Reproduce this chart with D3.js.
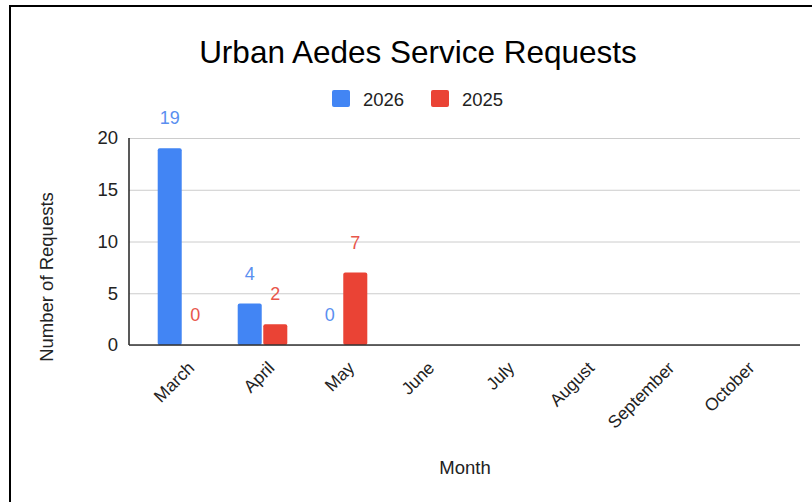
<!DOCTYPE html>
<html><head><meta charset="utf-8">
<script src="https://cdn.jsdelivr.net/npm/d3@7/dist/d3.min.js"></script>
<style>body{margin:0;background:#fff}svg{display:block;font-family:"Liberation Sans",Arial,sans-serif}</style>
</head><body>
<svg id="c" width="812" height="502"></svg>
<script>
const months = ["March","April","May","June","July","August","September","October"];
const series2026 = [19, 4, 0, null, null, null, null, null];
const series2025 = [0, 2, 7, null, null, null, null, null];
const seriesNames = ["2026", "2025"];
const colors = ["#4285f4", "#ea4335"];
const labelColors = ["#5a8ff0", "#e8564b"];
const yTicks = [0, 5, 10, 15, 20];

const svg = d3.select("#c");
svg.append("rect").attr("x",10).attr("y",6).attr("width",900).attr("height",700)
  .attr("fill","#fff").attr("stroke","#000").attr("stroke-width",2);

const L = 129, R = 800, T = 138, B = 345;
const y = d3.scaleLinear().domain([0,20]).range([B,T]);
const x = d3.scaleBand().domain(months).range([142.5, 782.5]).paddingInner(0.38).paddingOuter(0.19);
const xs = d3.scaleBand().domain(seriesNames).range([0, x.bandwidth()]).paddingInner(0.06);

// title
svg.append("text").attr("x",418).attr("y",63).attr("text-anchor","middle")
  .attr("font-size",31.5).attr("fill","#000").text("Urban Aedes Service Requests");

// legend
const leg = svg.append("g");
const legItems = [{n:"2026",x:332},{n:"2025",x:431}];
legItems.forEach((d,i)=>{
  leg.append("rect").attr("x",d.x).attr("y",90).attr("width",18).attr("height",17).attr("rx",2).attr("fill",colors[i]);
  leg.append("text").attr("x",d.x+31).attr("y",106).attr("font-size",18.5).attr("fill","#222").text(d.n);
});

// grid
const yAxis = d3.axisLeft(y).tickValues(yTicks).tickSize(-(R-L)).tickPadding(11);
const gy = svg.append("g").attr("transform",`translate(${L},0)`).call(yAxis);
gy.select(".domain").remove();
gy.selectAll(".tick line").attr("stroke","#cccccc");
gy.selectAll(".tick text").attr("font-size",18.5).attr("fill","#222").attr("font-family","Liberation Sans, Arial, sans-serif");

// bars
const data = months.map((m,i)=>({m, v:[series2026[i], series2025[i]]}));
const g = svg.append("g");
data.forEach(d=>{
  d.v.forEach((v,j)=>{
    if (v === null) return;
    const bx = x(d.m) + xs(seriesNames[j]);
    if (v > 0) {
      g.append("rect").attr("x",bx).attr("y",y(v)).attr("width",xs.bandwidth())
        .attr("height",B - y(v)).attr("rx",2).attr("fill",colors[j]);
    }
    g.append("text").attr("x",bx + xs.bandwidth()/2).attr("y",y(v)-24)
      .attr("text-anchor","middle").attr("font-size",18).attr("fill",labelColors[j]).text(v);
  });
});

// axes lines
svg.append("line").attr("x1",L).attr("x2",L).attr("y1",T).attr("y2",B).attr("stroke","#222").attr("stroke-width",1.5);
svg.append("line").attr("x1",L).attr("x2",R).attr("y1",B).attr("y2",B).attr("stroke","#333").attr("stroke-width",1.5);

// x labels
const xAxis = d3.axisBottom(x).tickSize(0).tickPadding(0);
const gx = svg.append("g").attr("transform",`translate(0,${B})`).call(xAxis);
gx.select(".domain").remove();
gx.selectAll(".tick text").attr("font-size",17.5).attr("fill","#222")
  .attr("font-family","Liberation Sans, Arial, sans-serif")
  .attr("text-anchor","end").attr("dy",0)
  .attr("transform","translate(13,24) rotate(-45)");

// axis titles
svg.append("text").attr("x",465).attr("y",474).attr("text-anchor","middle").attr("font-size",18.5).attr("fill","#222").text("Month");
svg.append("text").attr("transform","translate(53,277) rotate(-90)").attr("text-anchor","middle").attr("font-size",18.5).attr("fill","#222").text("Number of Requests");
</script>
</body></html>
